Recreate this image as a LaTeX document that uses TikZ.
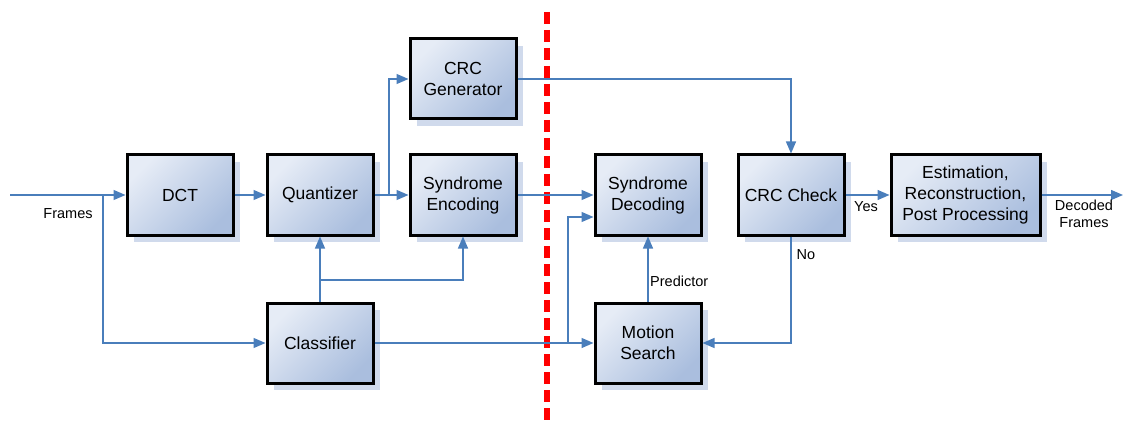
\documentclass[tikz,border=0pt]{standalone}
\usepackage{fontspec}
\setmainfont{Liberation Sans}
\usetikzlibrary{arrows.meta,shadows,calc}
\definecolor{linec}{RGB}{74,126,187}
\definecolor{boxlight}{RGB}{230,236,246}
\definecolor{boxdark}{RGB}{170,190,222}
\definecolor{shadowc}{RGB}{208,218,236}
\definecolor{redline}{RGB}{255,0,0}
\tikzset{
  blockbox/.style={draw=black, line width=3pt, minimum width=106pt, minimum height=80pt,
    top color=boxlight, bottom color=boxdark, shading angle=45,
    align=center, font=\fontsize{17.5}{21}\selectfont, inner sep=2pt,
    drop shadow={shadow xshift=7pt, shadow yshift=-7pt, fill=shadowc, opacity=1, draw=none}},
  conn/.style={draw=linec, line width=1.3pt, -{Triangle[length=12pt,width=10pt]}},
  plain/.style={draw=linec, line width=1.3pt},
  lbl/.style={font=\fontsize{14.5}{17}\selectfont, align=center, inner sep=0pt},
  divider/.style={draw=redline, line width=6.5pt, dash pattern=on 12pt off 6pt}
}
\begin{document}
\begin{tikzpicture}[x=1pt,y=-1pt]
\useasboundingbox (0,0) rectangle (1124,422);
% blocks
\node[blockbox] (dct) at (180,195) {DCT};
\node[blockbox] (quant) at (320,195) {Quantizer};
\node[blockbox] (crcgen) at (463,79) {CRC\\Generator};
\node[blockbox] (senc) at (463,195) {Syndrome\\Encoding};
\node[blockbox] (sdec) at (648,195) {Syndrome\\Decoding};
\node[blockbox] (crcchk) at (791,195) {CRC Check};
\node[blockbox, minimum width=149pt] (est) at (965.5,195) {Estimation,\\Reconstruction,\\Post Processing};
\node[blockbox] (cls) at (320,343) {Classifier};
\node[blockbox] (ms) at (648,343) {Motion\\Search};
% divider
\coordinate (rtop) at (547,12);
\coordinate (rbot) at (547,424);
\draw[divider] (rtop) -- (rbot);
% helper coordinates
\coordinate (in) at (10,195);
\coordinate (b1) at (103,195);
\coordinate (b2) at (389,195);
\coordinate (b3) at (320,280);
\coordinate (b4) at (568,343);
\coordinate (out) at (1123,195);
% connectors
\draw[conn] (in) -- (dct.west);
\draw[conn] (b1) |- (cls.west);
\draw[conn] (dct.east) -- (quant.west);
\draw[conn] (quant.east) -- (senc.west);
\draw[conn] (b2) |- (crcgen.west);
\draw[conn] (crcgen.east) -| (crcchk.north);
\draw[conn] (senc.east) -- (sdec.west);
\draw[conn] (cls.north) -- (quant.south);
\draw[conn] (b3) -| (senc.south);
\draw[conn] (cls.east) -- (ms.west);
\draw[conn] (b4) |- ([yshift=-22pt]sdec.west);
\draw[conn] (ms.north) -- (sdec.south);
\draw[conn] (crcchk.south) |- (ms.east);
\draw[conn] (crcchk.east) -- (est.west);
\draw[conn] (est.east) -- (out);
% labels
\node[lbl] (lframes) at (68,214) {Frames};
\node[lbl, anchor=west] (lpred) at (650,281) {Predictor};
\node[lbl] (lyes) at (866,207) {Yes};
\node[lbl] (lno) at (806,255) {No};
\node[lbl] (ldec) at (1084,214) {Decoded\\Frames};
\end{tikzpicture}
\end{document}
